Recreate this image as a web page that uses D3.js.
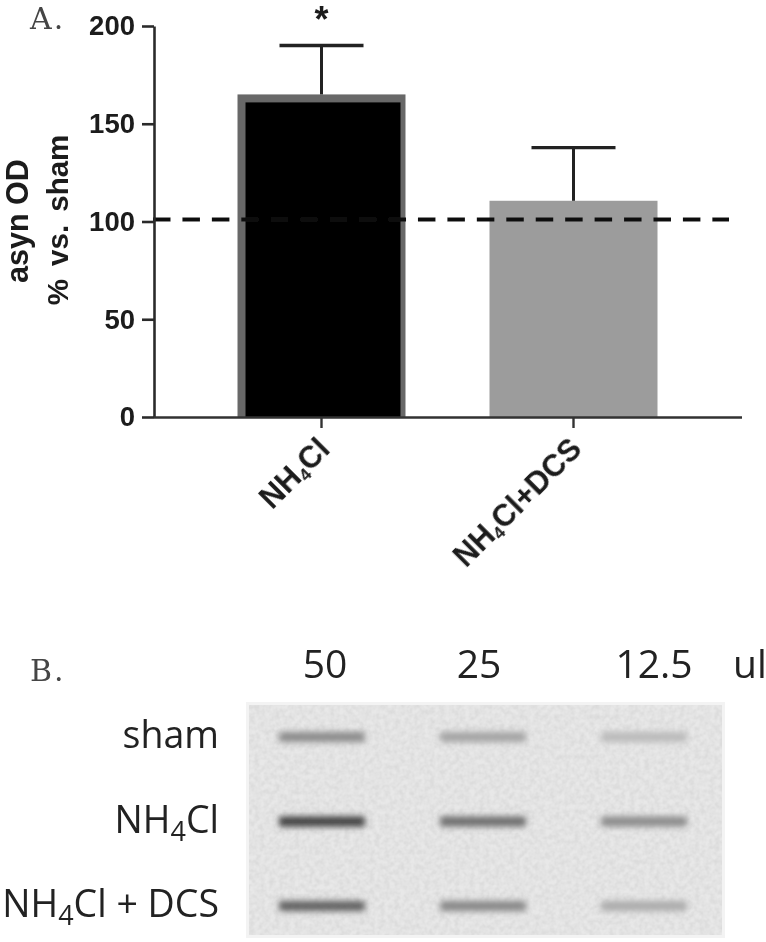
<!DOCTYPE html>
<html><head><meta charset="utf-8">
<script src="https://cdn.jsdelivr.net/npm/d3@7"></script>
<style>
html,body{margin:0;padding:0;background:#fff}
svg{display:block}
.num text,.bold{font-family:"Liberation Sans",Arial,sans-serif;font-weight:bold;fill:#1a1a1a}
.blot{font-family:"Open Sans","Noto Sans",sans-serif;fill:#222;font-size:37.5px}
.dose{font-size:39px}
.serif{font-family:"DejaVu Serif","Liberation Serif",serif;fill:#444;font-size:30px;letter-spacing:2px}
</style></head><body>
<script>
const categories = ["NH4Cl", "NH4Cl+DCS"];
const barValues = [165, 110.6];
const errorTops = [190, 137.8];
const barFills = ["#000000", "#9c9c9c"];
const barEdges = ["#686868", "#9c9c9c"];
const yTicks = [0, 50, 100, 150, 200];
const referenceLevel = 101;

const doses = ["50", "25", "12.5"];
const blotRows = ["sham", "NH4Cl", "NH4Cl + DCS"];
const bandGrey = [
  [0.48, 0.34, 0.22],
  [0.90, 0.64, 0.48],
  [0.72, 0.50, 0.30]
];

const svg = d3.select("body").append("svg").attr("width", 766).attr("height", 942);
const defs = svg.append("defs");
defs.append("filter").attr("id", "soft").attr("x", "-5%").attr("y", "-5%").attr("width", "110%").attr("height", "110%")
  .append("feGaussianBlur").attr("stdDeviation", 0.6);
const bandBlur = defs.append("filter").attr("id", "band").attr("x", "-20%").attr("y", "-200%").attr("width", "140%").attr("height", "500%");
bandBlur.append("feGaussianBlur").attr("stdDeviation", "3 3");
const grain = defs.append("filter").attr("id", "grain").attr("x", "0").attr("y", "0").attr("width", "100%").attr("height", "100%");
grain.append("feTurbulence").attr("type", "fractalNoise").attr("baseFrequency", 0.2).attr("numOctaves", 2).attr("seed", 4).attr("result", "n");
grain.append("feColorMatrix").attr("in", "n").attr("type", "matrix")
  .attr("values", "0 0 0 0 0  0 0 0 0 0  0 0 0 0 0  0.22 0 0 0 -0.06").attr("result", "a");
grain.append("feComposite").attr("in", "a").attr("in2", "SourceGraphic").attr("operator", "in").attr("result", "g");
grain.append("feFlood").attr("flood-color", "#e8e8e8").attr("result", "f");
grain.append("feMerge").selectAll("feMergeNode").data(["f", "g"]).join("feMergeNode").attr("in", d => d);

const y = d3.scaleLinear().domain([0, 200]).range([417, 26]);
const x = d3.scaleBand().domain(categories).range([153.5, 741.5]).paddingInner(1 / 3).paddingOuter(1 / 3);

// Panel A
const A = svg.append("g").attr("filter", "url(#soft)");
A.selectAll("rect.edge").data(categories).join("rect").attr("class", "edge")
  .attr("x", d => x(d)).attr("width", x.bandwidth())
  .attr("y", (d, i) => y(barValues[i])).attr("height", (d, i) => y(0) - y(barValues[i]))
  .attr("fill", (d, i) => barEdges[i]);
A.selectAll("rect.bar").data(categories).join("rect").attr("class", "bar")
  .attr("x", d => x(d) + 8).attr("width", x.bandwidth() - 13)
  .attr("y", (d, i) => y(barValues[i]) + 8).attr("height", (d, i) => y(0) - y(barValues[i]) - 8)
  .attr("fill", (d, i) => barFills[i]);

categories.forEach((c, i) => {
  const cx = x(c) + x.bandwidth() / 2;
  A.append("line").attr("x1", cx).attr("x2", cx).attr("y1", y(errorTops[i])).attr("y2", y(barValues[i]))
    .attr("stroke", "#222").attr("stroke-width", 3);
  A.append("line").attr("x1", cx - 42).attr("x2", cx + 42).attr("y1", y(errorTops[i])).attr("y2", y(errorTops[i]))
    .attr("stroke", "#222").attr("stroke-width", 3.4);
});

A.append("line").attr("x1", 153).attr("x2", 729).attr("y1", y(referenceLevel)).attr("y2", y(referenceLevel))
  .attr("stroke", "#111").attr("stroke-width", 4).attr("stroke-dasharray", "17.5 11.94");

const yAxis = A.append("g").attr("class", "num").attr("transform", "translate(154,0)")
  .call(d3.axisLeft(y).tickValues(yTicks).tickSize(12).tickSizeOuter(0).tickPadding(7));
yAxis.selectAll("path,line").attr("stroke", "#2a2a2a").attr("stroke-width", 2.6);
yAxis.selectAll("text").attr("font-size", 27.5);

const xAxis = A.append("g").attr("transform", "translate(0,417)")
  .call(d3.axisBottom(x).tickSize(11).tickSizeOuter(0).tickFormat(""));
xAxis.selectAll("path,line").attr("stroke", "#333").attr("stroke-width", 2.4);

function chem(sel, label, subSize, subDy) {
  const parts = label.split("4");
  sel.append("tspan").text(parts[0]);
  sel.append("tspan").attr("font-size", subSize).attr("dy", subDy).text("4");
  sel.append("tspan").attr("dy", -subDy).text(parts[1]);
}

categories.forEach(c => {
  const cx = x(c) + x.bandwidth() / 2;
  const t = A.append("text").attr("class", "bold").attr("text-anchor", "end").attr("font-size", 30.5)
    .attr("transform", `translate(${cx + 10},${451}) rotate(-45)`);
  chem(t, c, 17, 4);
});

A.append("text").attr("class", "bold").attr("text-anchor", "middle").attr("font-size", 30.5)
  .attr("transform", "translate(28,221) rotate(-90)").text("asyn OD");
A.append("text").attr("class", "bold").attr("text-anchor", "middle").attr("font-size", 29.5).attr("word-spacing", 5)
  .attr("transform", "translate(68,220) rotate(-90)").text("% vs. sham");
A.append("text").attr("class", "bold").attr("text-anchor", "middle").attr("font-size", 36)
  .attr("x", x(categories[0]) + x.bandwidth() / 2).attr("y", 32).text("*");
A.append("text").attr("class", "serif").attr("x", 30).attr("y", 29).text("A.");

// Panel B
const col = d3.scalePoint().domain(doses).range([322, 644]);
const doseLabelX = d3.scaleOrdinal().domain(doses).range([325, 479, 654]);
const row = d3.scalePoint().domain(blotRows).range([737, 906]);
const tone = d3.scaleLinear().domain([0, 1]).range(["#e2e2e2", "#2a2a2a"]);

const B = svg.append("g").attr("filter", "url(#soft)");
B.append("rect").attr("x", 246).attr("y", 702).attr("width", 479).attr("height", 236).attr("fill", "#f3f3f3");
B.append("rect").attr("x", 249).attr("y", 705).attr("width", 473).attr("height", 230).attr("fill", "#fff").attr("filter", "url(#grain)");

blotRows.forEach((r, i) => doses.forEach((d, j) => {
  B.append("rect").attr("x", col(d) - 43).attr("width", 86)
    .attr("y", row(r) - 5).attr("height", 10).attr("rx", 2)
    .attr("fill", tone(bandGrey[i][j])).attr("filter", "url(#band)");
}));

B.selectAll("text.dose").data(doses).join("text").attr("class", "blot dose")
  .attr("text-anchor", "middle").attr("x", d => doseLabelX(d)).attr("y", 678).text(d => d);
B.append("text").attr("class", "blot dose").attr("x", 733).attr("y", 678).text("ul");

blotRows.forEach(r => {
  const t = B.append("text").attr("class", "blot").attr("text-anchor", "end").attr("x", 219).attr("y", row(r) + 11);
  if (r.includes("4")) chem(t, r, 27, 8); else t.text(r);
});
B.append("text").attr("class", "serif").attr("x", 30).attr("y", 681).text("B.");
</script>
</body></html>
